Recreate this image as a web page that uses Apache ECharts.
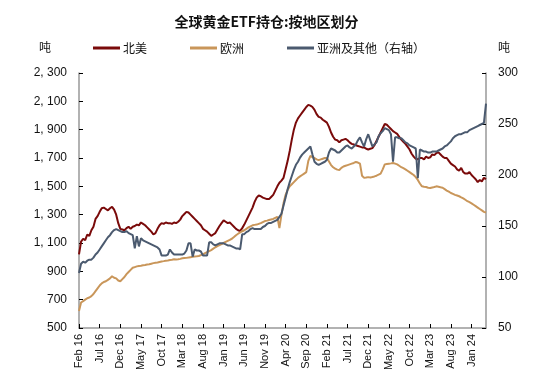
<!DOCTYPE html>
<html><head><meta charset="utf-8">
<script src="https://cdn.jsdelivr.net/npm/echarts@6/dist/echarts.min.js"></script>
<style>html,body{margin:0;padding:0;background:#fff}#c{width:533px;height:389px}</style>
</head><body><div id="c"></div>
<script>
// semi-monthly observations from Feb 2016 (two per month)
const monthNames = ['Jan','Feb','Mar','Apr','May','Jun','Jul','Aug','Sep','Oct','Nov','Dec'];
const northAmerica = [
1020,1110, 1130,1120, 1160,1150, 1190,1215, 1270,1290, 1320,1345, 1350,1340, 1330,1345, 1355,1335, 1300,1240,
1200,1195, 1190,1205, 1215,1200, 1215,1220, 1230,1225, 1245,1235, 1225,1210, 1195,1180, 1160,1170, 1200,1225,
1240,1235, 1245,1240, 1240,1235, 1245,1240, 1250,1265, 1290,1305, 1320,1315, 1300,1285, 1270,1255, 1240,1225,
1200,1190, 1180,1165, 1150,1160, 1170,1195, 1220,1240, 1260,1250, 1240,1245, 1230,1215, 1200,1190, 1185,1205,
1230,1260, 1290,1320, 1350,1390, 1420,1435, 1430,1420, 1415,1410, 1410,1425, 1440,1470, 1500,1525, 1540,1560,
1620,1680, 1750,1830, 1900,1950, 1980,2000, 2020,2040, 2060,2075, 2070,2060, 2040,2010, 1990,1985, 1970,1960,
1950,1920, 1880,1850, 1830,1825, 1810,1825, 1830,1835, 1825,1810, 1800,1795, 1790,1785, 1780,1775, 1775,1765,
1760,1765, 1770,1790, 1820,1850, 1880,1910, 1940,1935, 1920,1905, 1890,1880, 1870,1850, 1830,1815, 1800,1780,
1760,1730, 1710,1695, 1690,1700, 1700,1690, 1710,1700, 1705,1725, 1720,1735, 1740,1725, 1710,1700, 1700,1680,
1660,1650, 1640,1620, 1610,1630, 1600,1590, 1590,1600, 1580,1565, 1550,1530, 1545,1535, 1560,1550
];
const europe = [
620,680, 690,700, 710,715, 725,740, 760,780, 800,815, 825,830, 840,850, 865,855, 850,835,
830,845, 860,880, 895,910, 925,930, 935,938, 940,943, 945,948, 950,954, 958,960, 962,966,
970,972, 975,977, 980,982, 985,984, 985,988, 992,994, 995,997, 1000,1003, 1005,1006, 1008,1014,
1020,1028, 1035,1042, 1050,1060, 1070,1078, 1085,1092, 1100,1108, 1115,1122, 1130,1142, 1155,1165, 1175,1183,
1190,1200, 1210,1218, 1225,1228, 1230,1235, 1240,1248, 1255,1258, 1262,1266, 1270,1278, 1285,1206, 1300,1380,
1440,1475, 1500,1515, 1530,1545, 1560,1570, 1580,1590, 1600,1680, 1715,1705, 1700,1690, 1685,1690, 1695,1700,
1700,1675, 1650,1635, 1625,1618, 1615,1630, 1640,1645, 1650,1655, 1660,1665, 1672,1668, 1660,1575, 1560,1562,
1565,1563, 1566,1570, 1575,1582, 1590,1620, 1655,1658, 1660,1662, 1665,1660, 1655,1645, 1635,1628, 1620,1610,
1600,1590, 1580,1565, 1545,1520, 1500,1497, 1495,1490, 1488,1492, 1495,1500, 1497,1493, 1490,1480, 1470,1462,
1453,1447, 1440,1435, 1430,1422, 1415,1405, 1395,1388, 1380,1370, 1360,1350, 1340,1330, 1320,1315
];
const asiaOther = [
104,113, 115,114, 116,117, 117,119, 122,124, 127,130, 133,136, 139,141, 144,146, 147,146,
145,144, 144,145, 143,142, 141,128, 140,130, 138,136, 135,134, 133,132, 131,130, 129,127,
121,121, 121,122, 127,124, 122,122, 122,122, 122,123, 126,133, 133,120, 127,126, 126,125,
121,121, 121,134, 134,132, 131,132, 133,133, 133,132, 131,131, 130,129, 128,128, 127,142,
142,144, 145,147, 148,147, 147,147, 147,149, 150,152, 153,153, 154,155, 156,159, 162,170,
178,186, 193,199, 205,210, 213,217, 220,222, 224,226, 228,220, 213,211, 210,211, 212,213,
215,222, 226,225, 224,222, 222,224, 226,228, 229,227, 226,228, 230,234, 237,232, 228,235,
240,234, 228,230, 232,238, 241,243, 246,245, 244,240, 213,237, 237,236, 236,234, 232,231,
229,228, 227,226, 197,225, 224,223, 223,222, 222,223, 223,223, 224,225, 226,228, 229,231,
233,236, 238,239, 240,240, 241,242, 242,244, 245,246, 247,248, 249,250, 251,270
];
const seriesNames = ['北美','欧洲','亚洲及其他（右轴）'];
const categories = northAmerica.map((_, k) => {
  const m = Math.floor(k / 2) + 1; // months since Jan 2016
  const mon = m % 12, yr = 16 + Math.floor(m / 12);
  return monthNames[mon] + ' ' + yr + (k % 2 ? ' b' : '');
});
const showTick = (i) => i % 10 === 0;

const chart = echarts.init(document.getElementById('c'));
const font = '"Liberation Sans", Arial, sans-serif';
chart.setOption({
  animation: false,
  textStyle: { fontFamily: font },
  title: {
    text: '全球黄金ETF持仓:按地区划分', left: 'center', top: 10,
    textStyle: { fontSize: 14, fontWeight: 'bold', color: '#111', fontFamily: '"Noto Sans CJK SC", sans-serif' }
  },
  legend: {
    top: 37, left: 88, itemGap: 43, itemWidth: 27, itemHeight: 3, icon: 'rect',
    textStyle: { fontSize: 12, color: '#111', fontFamily: '"Noto Sans CJK SC", sans-serif', padding: [0,0,0,-2] },
    data: seriesNames
  },
  grid: { left: 79, right: 47, top: 73, bottom: 61 },
  xAxis: {
    type: 'category', data: categories, boundaryGap: false,
    axisLine: { lineStyle: { color: '#999', width: 1.5 } },
    axisTick: { inside: true, length: 4, interval: showTick, lineStyle: { color: '#000' } },
    axisLabel: { interval: showTick, rotate: 90, fontSize: 11, color: '#111', margin: 6,
      formatter: v => v.replace(' b','') }
  },
  yAxis: [{
    type: 'value', min: 500, max: 2300, interval: 200,
    name: '吨', nameLocation: 'end', nameGap: 20,
    nameTextStyle: { align: 'right', padding: [0, 28, 0, 0], fontSize: 12, color: '#111', fontFamily: '"Noto Sans CJK SC", sans-serif' },
    splitLine: { show: false },
    axisLine: { show: true, lineStyle: { color: '#999', width: 1.5 } },
    axisTick: { show: true, inside: true, length: 4, lineStyle: { color: '#000' } },
    axisLabel: { fontSize: 12, color: '#111', margin: 12,
      formatter: v => v >= 1000 ? Math.floor(v / 1000) + ', ' + String(v % 1000).padStart(3, '0') : String(v) }
  }, {
    type: 'value', min: 50, max: 300, interval: 50, position: 'right',
    name: '吨', nameLocation: 'end', nameGap: 20,
    nameTextStyle: { align: 'left', padding: [0, 0, 0, 12], fontSize: 12, color: '#111', fontFamily: '"Noto Sans CJK SC", sans-serif' },
    splitLine: { show: false },
    axisLine: { show: true, lineStyle: { color: '#999', width: 1.5 } },
    axisTick: { show: true, inside: true, length: 4, lineStyle: { color: '#000' } },
    axisLabel: { fontSize: 12, color: '#111', margin: 12 }
  }],
  series: [
    { name: seriesNames[0], type: 'line', data: northAmerica, yAxisIndex: 0, showSymbol: false,
      lineStyle: { width: 2, color: '#7a0a0a' }, itemStyle: { color: '#7a0a0a' } },
    { name: seriesNames[1], type: 'line', data: europe, yAxisIndex: 0, showSymbol: false,
      lineStyle: { width: 2, color: '#c9965a' }, itemStyle: { color: '#c9965a' } },
    { name: seriesNames[2], type: 'line', data: asiaOther, yAxisIndex: 1, showSymbol: false,
      lineStyle: { width: 2, color: '#4b5a6f' }, itemStyle: { color: '#4b5a6f' } }
  ]
});
</script></body></html>
